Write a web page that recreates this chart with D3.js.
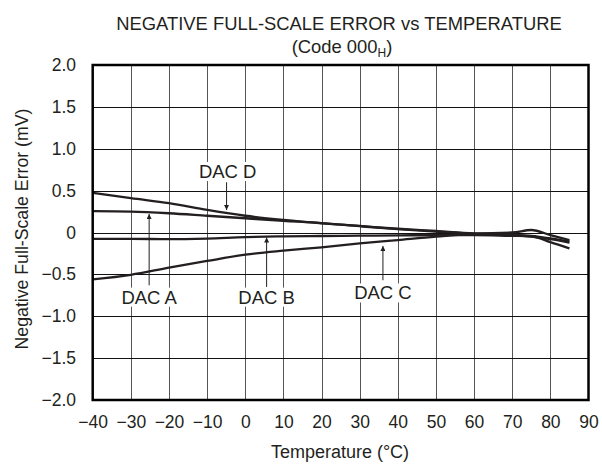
<!DOCTYPE html>
<html><head><meta charset="utf-8">
<script src="https://cdn.jsdelivr.net/npm/d3@7/dist/d3.min.js"></script>
<style>body{margin:0;background:#fff}svg{display:block}text{font-family:"Liberation Sans",Arial,Helvetica,sans-serif;fill:#231f20}</style>
</head><body>
<script>
const temps = [-40,-30,-20,-10,0,10,20,30,40,50,60,70,75,80,85];
const dacA = [0.255,0.25,0.23,0.20,0.17,0.14,0.113,0.075,0.04,0.012,-0.015,-0.03,-0.04,-0.07,-0.11];
const dacB = [-0.075,-0.075,-0.08,-0.072,-0.055,-0.046,-0.042,-0.038,-0.035,-0.03,-0.03,-0.04,-0.045,-0.115,-0.19];
const dacC = [-0.56,-0.505,-0.42,-0.34,-0.265,-0.217,-0.177,-0.13,-0.09,-0.05,-0.02,-0.03,-0.05,-0.08,-0.12];
const dacD = [0.475,0.41,0.35,0.27,0.20,0.15,0.11,0.078,0.045,0.018,-0.01,0.0,0.03,-0.03,-0.09];
const xTicks = [-40,-30,-20,-10,0,10,20,30,40,50,60,70,80,90];
const yTicks = [-2.0,-1.5,-1.0,-0.5,0,0.5,1.0,1.5,2.0];
const labels = [
  {name:"DAC D", tx:-4.6, ty:0.73, ax:-4.9, a0:0.60, a1:0.27},
  {name:"DAC A", tx:-25.2, ty:-0.77, ax:-25.2, a0:-0.63, a1:0.22},
  {name:"DAC B", tx:5.6, ty:-0.77, ax:5.6, a0:-0.65, a1:-0.06},
  {name:"DAC C", tx:36.1, ty:-0.72, ax:36.1, a0:-0.57, a1:-0.16}
];

const W=602,H=468;
const svg=d3.select("body").append("svg").attr("width",W).attr("height",H);
const x=d3.scaleLinear().domain([-40,90]).range([92.7,588.5]);
const y=d3.scaleLinear().domain([-2,2]).range([400,65]);
const fmtY=v=>v===0?"0":d3.format(".1f")(v).replace("-","\u2212");
const fmtX=v=>String(v).replace("-","\u2212");

// grid
svg.append("g").selectAll("line").data(xTicks.slice(1,-1)).join("line")
  .attr("x1",d=>Math.round(x(d))+0.5).attr("x2",d=>Math.round(x(d))+0.5)
  .attr("y1",y(2)).attr("y2",y(-2)).attr("stroke","#555").attr("stroke-width",1);
svg.append("g").selectAll("line").data(yTicks.slice(1,-1)).join("line")
  .attr("y1",d=>Math.round(y(d))+0.5).attr("y2",d=>Math.round(y(d))+0.5)
  .attr("x1",x(-40)).attr("x2",x(90)).attr("stroke","#111").attr("stroke-width",1);

// axes labels
const xAxis=d3.axisBottom(x).tickValues(xTicks).tickSize(0).tickPadding(0).tickFormat(fmtX);
const gx=svg.append("g").attr("transform","translate(0,416)").call(xAxis);
gx.select(".domain").remove();
gx.selectAll("text").attr("font-size",17.5).attr("fill","#231f20").attr("dy","0.71em");
const yAxis=d3.axisLeft(y).tickValues(yTicks).tickSize(0).tickPadding(0).tickFormat(fmtY);
const gy=svg.append("g").attr("transform","translate(76,0)").call(yAxis);
gy.select(".domain").remove();
gy.selectAll("text").attr("font-size",17.5).attr("fill","#231f20");
svg.selectAll(".tick text").attr("font-family",'"Liberation Sans",Arial,sans-serif');

// lines
const line=d3.line().x((d,i)=>x(temps[i])).y(d=>y(d)).curve(d3.curveMonotoneX);
[dacA,dacB,dacC,dacD].forEach(s=>{
  svg.append("path").attr("d",line(s)).attr("fill","none").attr("stroke","#231f20").attr("stroke-width",2.3);
});

// annotations
svg.append("defs").append("marker").attr("id","ah").attr("viewBox","0 0 10 10")
  .attr("refX",10).attr("refY",5).attr("markerWidth",9).attr("markerHeight",5)
  .attr("markerUnits","userSpaceOnUse").attr("orient","auto")
  .append("path").attr("d","M0,0L10,5L0,10Z").attr("fill","#231f20");
labels.forEach(l=>{
  const g=svg.append("g");
  const r=g.append("rect").attr("fill","#fff");
  const t=g.append("text").attr("x",x(l.tx)).attr("y",y(l.ty)).attr("text-anchor","middle")
    .attr("dy","0.36em").attr("font-size",18.5).text(l.name);
  const bb=t.node().getBBox();
  r.attr("x",bb.x-2).attr("y",bb.y+1).attr("width",bb.width+4).attr("height",bb.height-2);
  svg.append("line").attr("x1",x(l.ax)).attr("x2",x(l.ax)).attr("y1",y(l.a0)).attr("y2",y(l.a1))
    .attr("stroke","#231f20").attr("stroke-width",1).attr("marker-end","url(#ah)");
});

// frame
svg.append("rect").attr("x",x(-40)).attr("y",y(2)).attr("width",x(90)-x(-40)).attr("height",y(-2)-y(2))
  .attr("fill","none").attr("stroke","#000").attr("stroke-width",2.5);

// titles
svg.append("text").attr("x",339).attr("y",30).attr("text-anchor","middle").attr("font-size",18.4)
  .text("NEGATIVE FULL-SCALE ERROR vs TEMPERATURE");
const t2=svg.append("text").attr("x",342).attr("y",53).attr("text-anchor","middle").attr("font-size",18.4);
t2.append("tspan").text("(Code 000");
t2.append("tspan").attr("font-size",12).attr("dy",4).text("H");
t2.append("tspan").attr("dy",-4).text(")");
svg.append("text").attr("x",340).attr("y",458).attr("text-anchor","middle").attr("font-size",18)
  .text("Temperature (\u00B0C)");
svg.append("text").attr("transform","translate(28,229) rotate(-90)").attr("text-anchor","middle").attr("font-size",17.7)
  .text("Negative Full-Scale Error (mV)");
</script>
</body></html>
